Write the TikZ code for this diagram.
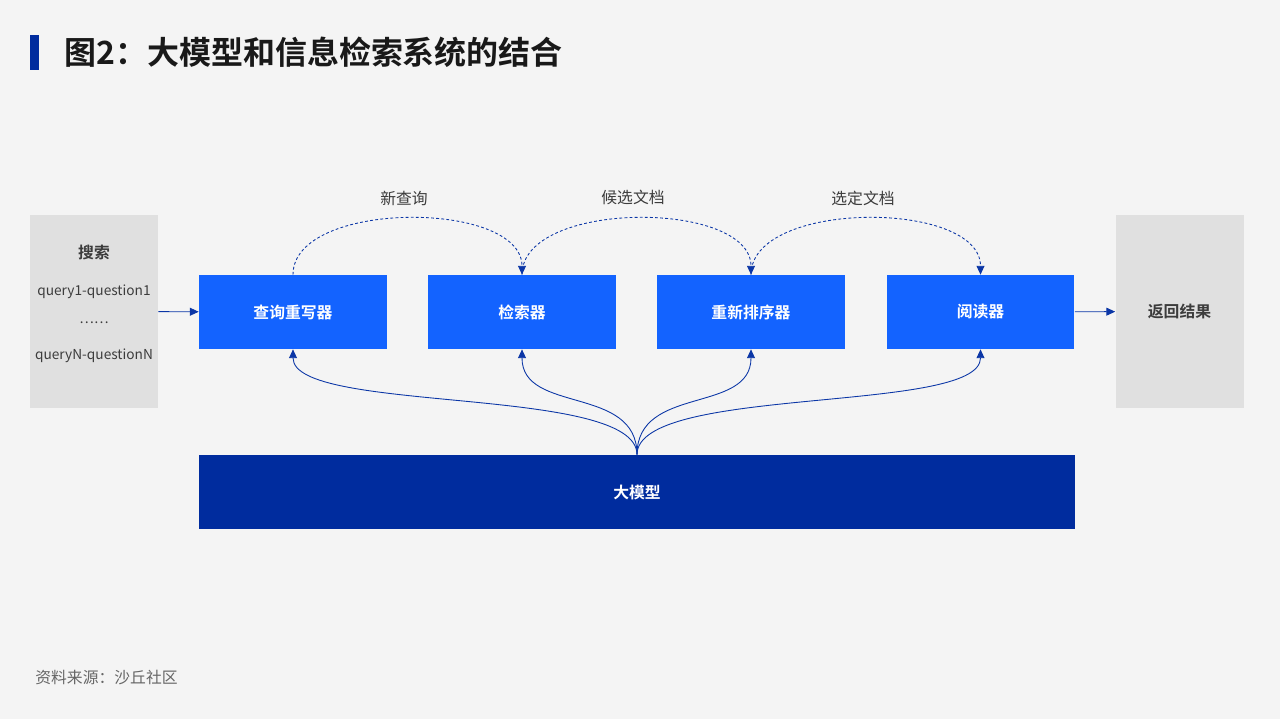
\documentclass[tikz,border=0pt]{standalone}
\usepackage{fontspec}
\setmainfont{Noto Sans CJK SC}[BoldFont={Noto Sans CJK SC Bold}]
\usetikzlibrary{arrows.meta}
\definecolor{bgcolor}{HTML}{F4F4F4}
\definecolor{sidegray}{HTML}{E0E0E0}
\definecolor{stageblue}{HTML}{1363FF}
\definecolor{modelblue}{HTML}{002C9E}
\definecolor{linkblue}{HTML}{0B36A6}
\definecolor{darktext}{HTML}{3C3C3C}
\definecolor{notetext}{HTML}{666666}

\begin{document}
\begin{tikzpicture}[
    x=0.02cm, y=-0.02cm,
    stage/.style={fill=stageblue, minimum width=3.76cm, minimum height=1.48cm, inner sep=0pt, text=white, font=\fontsize{9}{11}\selectfont\bfseries},
    side/.style={fill=sidegray, minimum width=2.56cm, minimum height=3.86cm, inner sep=0pt},
    tag/.style={text=darktext, font=\fontsize{9}{11}\selectfont},
    query/.style={text=darktext, font=\fontsize{7.8}{10}\selectfont},
    flow/.style={->, draw=linkblue, line width=0.5pt},
    feed/.style={flow, dash pattern=on 1.6pt off 1.3pt},
    >={Triangle[length=5pt, width=4.5pt]}
]
  \path[fill=bgcolor, use as bounding box] (0,0) rectangle (1280,719);

  % Title
  \fill[modelblue] (30,35) rectangle (39,70);
  \node[anchor=west, inner sep=0pt, text=black!90, font=\fontsize{18.2}{22}\selectfont\bfseries] (title) at (64,52) {图2：大模型和信息检索系统的结合};

  % Input and output
  \node[side] (search) at (94,311.5) {};
  \node[tag, font=\fontsize{9}{11}\selectfont\bfseries] (searchtitle) at (94,253) {搜索};
  \node[query] (q1) at (94,292) {query1-question1};
  \node[query] (qdots) at (94,323) {……};
  \node[query] (qn) at (94,356) {queryN-questionN};
  \node[side, tag, font=\fontsize{9}{11}\selectfont\bfseries] (result) at (1179.5,311.5) {返回结果};

  % Pipeline
  \node[stage] (rewrite) at (293,312) {查询重写器};
  \node[stage] (retrieve) at (522,312) {检索器};
  \node[stage] (rerank) at (751,312) {重新排序器};
  \node[stage] (reader) at (980.5,312) {阅读器};
  \node[stage, fill=modelblue, minimum width=17.52cm] (llm) at (637,492) {大模型};

  \draw[flow] (search) -- (rewrite);
  \draw[flow] (reader) -- (result);

  % Intermediate results
  \draw[feed] (rewrite.north) .. controls +(0,-75) and +(0,-75) .. (retrieve.north);
  \draw[feed] (retrieve.north) .. controls +(0,-75) and +(0,-75) .. (rerank.north);
  \draw[feed] (rerank.north) .. controls +(0,-75) and +(0,-75) .. (reader.north);
  \node[tag] (newquery) at (404,198) {新查询};
  \node[tag] (candidates) at (633,197) {候选文档};
  \node[tag] (selected) at (863,198) {选定文档};

  % LLM feeds every stage
  \foreach \s in {rewrite, retrieve, rerank, reader}
    \draw[flow] (llm.north) .. controls +(0,-70) and +(0,65) .. (\s.south);

  % Source
  \node[anchor=west, inner sep=0pt, text=notetext, font=\fontsize{9}{11}\selectfont] (source) at (35,678) {资料来源：沙丘社区};
\end{tikzpicture}
\end{document}
